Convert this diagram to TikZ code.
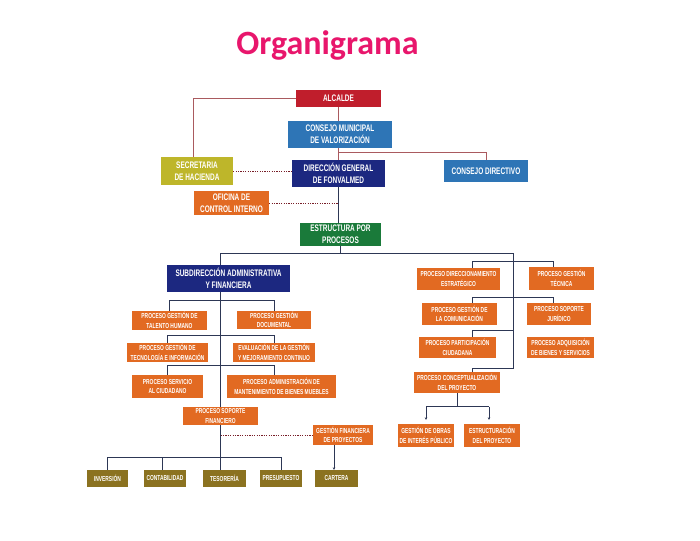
\documentclass[tikz,border=0pt]{standalone}
\usepackage{fontspec}
\setmainfont{Liberation Sans}
\newfontfamily\bxfont[FakeStretch=0.68]{Liberation Sans}
\newfontfamily\ttlfont{Carlito}
\usetikzlibrary{arrows.meta,backgrounds}
\definecolor{cTitle}{RGB}{232,22,108}
\definecolor{cRed}{RGB}{192,30,44}
\definecolor{cBlue}{RGB}{46,117,182}
\definecolor{cNavy}{RGB}{28,40,128}
\definecolor{cOlive}{RGB}{190,182,42}
\definecolor{cOrange}{RGB}{226,106,34}
\definecolor{cGreen}{RGB}{26,122,58}
\definecolor{cBrown}{RGB}{139,114,32}
\definecolor{cTopLine}{RGB}{170,90,95}
\definecolor{cDot}{RGB}{120,30,40}
\definecolor{cLine}{RGB}{45,55,85}
\tikzset{
  box/.style={draw=none, inner sep=0pt, align=center, text=white,
    font={\bxfont\bfseries\fontsize{9.5}{12}\selectfont}},
  sbox/.style={box, font={\bxfont\bfseries\fontsize{7.2}{9.5}\selectfont}},
  topln/.style={draw=cTopLine, line width=0.8pt},
  dotln/.style={draw=cDot, line width=1pt, dash pattern=on 1.2pt off 1.2pt},
  ln/.style={draw=cLine, line width=0.9pt},
  arr/.style={-{Stealth[length=2.5pt,width=2.5pt]}}
}
\newcommand\bx[7]{\node[#6, minimum width={(#4-#2)*1pt}, minimum height={(#5-#3)*1pt}] (#1) at ({(#2+#4)/2},{(#3+#5)/2}) {#7};}
\begin{document}
\begin{tikzpicture}[x=1pt,y=-1pt]
\useasboundingbox (0,0) rectangle (700,540);
\node[anchor=base, text=cTitle, font={\ttlfont\bfseries\fontsize{34}{40}\selectfont}] (title) at (327.5,55) {Organigrama};
% top level
\bx{alcalde}{296}{90}{381}{107}{box,fill=cRed}{ALCALDE}
\bx{consejoM}{288}{121}{392}{148}{box,fill=cBlue}{CONSEJO MUNICIPAL\\DE VALORIZACIÓN}
\bx{secretaria}{161}{157}{233}{185}{box,fill=cOlive}{SECRETARIA\\DE HACIENDA}
\bx{direccion}{292}{160}{385}{187}{box,fill=cNavy}{DIRECCIÓN GENERAL\\DE FONVALMED}
\bx{consejoD}{444}{160}{528}{182}{box,fill=cBlue}{CONSEJO DIRECTIVO}
\bx{oficina}{194}{191}{269}{215}{box,fill=cOrange}{OFICINA DE\\CONTROL INTERNO}
\bx{estructura}{300}{223}{381}{246}{box,fill=cGreen}{ESTRUCTURA POR\\PROCESOS}
% left branch
\bx{subdir}{167}{265}{290}{292}{box,fill=cNavy}{SUBDIRECCIÓN ADMINISTRATIVA\\Y FINANCIERA}
\bx{talento}{132}{311}{207}{330}{sbox,fill=cOrange}{PROCESO GESTIÓN DE\\TALENTO HUMANO}
\bx{documental}{237}{311}{311}{329}{sbox,fill=cOrange}{PROCESO GESTIÓN\\DOCUMENTAL}
\bx{tecnologia}{127}{343}{208}{362}{sbox,fill=cOrange}{PROCESO GESTIÓN DE\\TECNOLOGÍA E INFORMACIÓN}
\bx{evaluacion}{233}{343}{315}{362}{sbox,fill=cOrange}{EVALUACIÓN DE LA GESTIÓN\\Y MEJORAMIENTO CONTINUO}
\bx{servicio}{132}{375}{203}{398}{sbox,fill=cOrange}{PROCESO SERVICIO\\AL CIUDADANO}
\bx{admin}{227}{375}{336}{398}{sbox,fill=cOrange}{PROCESO ADMINISTRACIÓN DE\\MANTENIMIENTO DE BIENES MUEBLES}
\bx{soporteF}{183}{407}{258}{425}{sbox,fill=cOrange}{PROCESO SOPORTE\\FINANCIERO}
\bx{gestionF}{313}{425}{373}{445}{sbox,fill=cOrange}{GESTIÓN FINANCIERA\\DE PROYECTOS}
\bx{inversion}{87}{470}{128}{487}{sbox,fill=cBrown}{INVERSIÓN}
\bx{contabilidad}{144}{470}{186}{487}{sbox,fill=cBrown}{CONTABILIDAD}
\bx{tesoreria}{203}{470}{246}{487}{sbox,fill=cBrown}{TESORERÍA}
\bx{presupuesto}{260}{470}{302}{487}{sbox,fill=cBrown}{PRESUPUESTO}
\bx{cartera}{315}{470}{358}{487}{sbox,fill=cBrown}{CARTERA}
% right branch
\bx{direccionamiento}{417}{268}{500}{290}{sbox,fill=cOrange}{PROCESO DIRECCIONAMIENTO\\ESTRATÉGICO}
\bx{tecnica}{529}{267}{594}{290}{sbox,fill=cOrange}{PROCESO GESTIÓN\\TÉCNICA}
\bx{comunicacion}{422}{303}{497}{325}{sbox,fill=cOrange}{PROCESO GESTIÓN DE\\LA COMUNICACIÓN}
\bx{juridico}{527}{303}{591}{325}{sbox,fill=cOrange}{PROCESO SOPORTE\\JURÍDICO}
\bx{participacion}{419}{337}{496}{358}{sbox,fill=cOrange}{PROCESO PARTICIPACIÓN\\CIUDADANA}
\bx{adquisicion}{527}{337}{594}{358}{sbox,fill=cOrange}{PROCESO ADQUISICIÓN\\DE BIENES Y SERVICIOS}
\bx{conceptualizacion}{414}{372}{500}{393}{sbox,fill=cOrange}{PROCESO CONCEPTUALIZACIÓN\\DEL PROYECTO}
\bx{obras}{398}{424}{454}{447}{sbox,fill=cOrange}{GESTIÓN DE OBRAS\\DE INTERÉS PÚBLICO}
\bx{estructuracion}{464}{424}{520}{447}{sbox,fill=cOrange}{ESTRUCTURACIÓN\\DEL PROYECTO}
\coordinate (hL) at (220,253);
\coordinate (hR) at (513,253);
\begin{pgfonlayer}{background}
% top connectors
\draw[topln] (alcalde.west) -| ([xshift=-4pt]secretaria.north);
\draw[topln] (alcalde.south) -- (alcalde.south |- consejoM.north);
\draw[topln] (consejoM.south -| direccion.north) -- (direccion.north);
\draw[topln] ([yshift=-4pt]consejoM.south -| direccion.north) -| (consejoD.north);
\draw[dotln] (secretaria.east) -- (secretaria.east -| direccion.west);
\draw[ln] (direccion.south) -- (direccion.south |- estructura.north);
\draw[dotln] (oficina.east) -- (oficina.east -| direccion.south);
\draw[ln] (estructura.south) -- (estructura.south |- hL);
\draw[ln] (hL) -- (hR);
% left branch
\draw[ln] (hL) -- (hL |- soporteF.north);
\draw[ln] (talento.north) -- ++(0,-10) -| (documental.north);
\draw[ln] (tecnologia.north) -- ++(0,-7) -| (evaluacion.north);
\draw[ln] (servicio.north) -- ++(0,-9) -| ([xshift=-7.5pt]admin.north);
\draw[ln] (soporteF.south) -- (soporteF.south |- tesoreria.north);
\draw[ln] (inversion.north) -- ++(0,-12) -| (presupuesto.north);
\draw[ln] ([xshift=-3pt,yshift=12pt]contabilidad.north) -- ([xshift=-3pt]contabilidad.north);
\draw[dotln] (gestionF.west -| soporteF.south) -- (gestionF.west);
\draw[ln,arr] ([xshift=-9pt]gestionF.south) -- ([xshift=-9pt]gestionF.south |- cartera.north);
% right branch
\draw[ln] (hR) -- ++(0,115) -| ([xshift=15pt]conceptualizacion.north);
\draw[ln] ([xshift=13.5pt]direccionamiento.north) -- ++(0,-6) -| ([xshift=-8.5pt]tecnica.north);
\draw[ln] ([xshift=12.5pt]comunicacion.north) -- ++(0,-5) -| ([xshift=-6pt]juridico.north);
\draw[ln] ([xshift=14.5pt]participacion.north) |- ([yshift=6pt]participacion.north -| hR);
\draw[ln] (conceptualizacion.south) -- ([yshift=17pt]conceptualizacion.south |- obras.north);
\draw[ln] ([yshift=17pt]obras.north) -- ([xshift=-3pt,yshift=17pt]estructuracion.north);
\draw[ln,arr] ([yshift=17pt]obras.north) -- ([yshift=4pt]obras.north);
\draw[ln,arr] ([xshift=-3pt,yshift=17pt]estructuracion.north) -- ([xshift=-3pt,yshift=4pt]estructuracion.north);
\end{pgfonlayer}
\end{tikzpicture}
\end{document}
